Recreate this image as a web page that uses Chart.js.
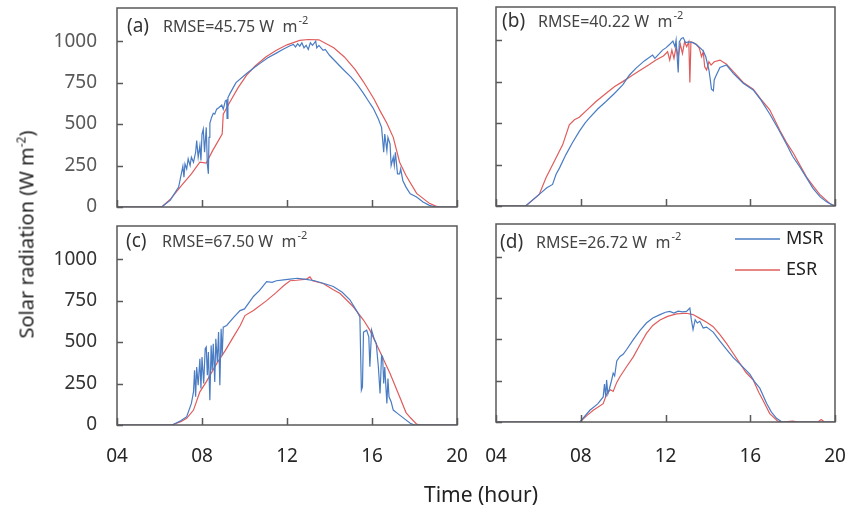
<!DOCTYPE html>
<html>
<head>
<meta charset="utf-8">
<script src="https://cdn.jsdelivr.net/npm/chart.js@4.4.0/dist/chart.umd.min.js"></script>
<style>
  body { margin: 0; background: #fff; }
  #wrap { position: relative; width: 848px; height: 509px; overflow: hidden; font-family: "Noto Sans", sans-serif; }
  canvas { position: absolute; }
  .title { position: absolute; color: #222; font-size: 20px; white-space: nowrap; text-align: center; }
  .title sup { font-size: 12px; vertical-align: 8px; line-height: 0; }
</style>
</head>
<body>
<div id="wrap">
  <canvas id="pa" width="470" height="215" style="left:0;top:0"></canvas>
  <canvas id="pb" width="378" height="215" style="left:470px;top:0"></canvas>
  <canvas id="pc" width="470" height="294" style="left:0;top:215px"></canvas>
  <canvas id="pd" width="378" height="294" style="left:470px;top:215px"></canvas>
  <div class="title" style="left:-124px;top:221px;width:300px;transform:rotate(-90deg)">Solar radiation (W m<sup>-2</sup>)</div>
  <div class="title" style="left:381px;top:480px;width:200px;font-size:21px">Time (hour)</div>
</div>
<script>
const xTicks = [4, 8, 12, 16, 20];
const xTickLabels = ['04', '08', '12', '16', '20'];
const yTicks = [0, 250, 500, 750, 1000];

// (a)
const aMsrHour = [4, 6.1, 6.5, 6.9, 7.1, 7.15, 7.2, 7.28, 7.35, 7.44, 7.5, 7.6, 7.7, 7.75, 7.82, 7.9, 7.95, 8.0, 8.06, 8.12, 8.2, 8.25, 8.3, 8.33, 8.37, 8.45, 8.53, 8.6, 8.69, 8.8, 8.93, 9.0, 9.1, 9.16, 9.18, 9.22, 9.32, 9.6, 10.1, 10.4, 10.73, 11.1, 11.5, 11.8, 12.14, 12.3, 12.4, 12.5, 12.6, 12.7, 12.8, 12.9, 13.0, 13.1, 13.2, 13.35, 13.4, 13.5, 13.7, 13.8, 14.0, 14.34, 14.6, 15.0, 15.3, 15.6, 15.8, 16.06, 16.3, 16.45, 16.55, 16.6, 16.7, 16.75, 16.85, 16.9, 17.0, 17.05, 17.1, 17.2, 17.3, 17.35, 17.45, 17.6, 17.8, 18.1, 18.4, 18.7, 19.0, 20];
const aMsrVal = [0, 0, 40, 120, 245, 180, 260, 230, 290, 250, 300, 270, 330, 400, 300, 370, 280, 440, 470, 330, 480, 260, 200, 420, 505, 540, 565, 560, 590, 600, 615, 590, 640, 645, 535, 660, 685, 750, 805, 835, 866, 900, 928, 950, 972, 980, 965, 985, 970, 990, 960, 975, 950, 990, 975, 1000, 960, 975, 945, 950, 915, 870, 835, 785, 740, 685, 645, 595, 530, 480, 330, 440, 340, 420, 380, 250, 300, 250, 330, 200, 200, 230, 160, 120, 80, 60, 30, 10, 0, 0];
const aEsrHour = [4, 6.1, 6.5, 7.0, 7.5, 7.9, 8.2, 8.5, 8.95, 9.0, 9.3, 9.7, 10.1, 10.5, 11.0, 11.5, 12.0, 12.6, 13.0, 13.5, 14.2, 14.7, 15.2, 15.6, 16.1, 16.4, 16.7, 17.0, 17.3, 17.6, 18.1, 18.7, 19.0, 19.2, 20];
const aEsrVal = [0, 0, 45, 125, 200, 270, 265, 340, 440, 560, 630, 720, 795, 850, 905, 945, 978, 1005, 1010, 1008, 960, 905, 830, 755, 650, 575, 505, 420, 270, 190, 82, 22, 5, 0, 0];

// (b)
const bMsrHour = [4, 5.4, 6.04, 6.4, 6.67, 6.83, 7.0, 7.3, 7.6, 7.93, 8.2, 8.4, 8.8, 9.19, 9.6, 9.98, 10.3, 10.6, 11.0, 11.39, 11.5, 11.86, 12.03, 12.2, 12.35, 12.45, 12.5, 12.6, 12.65, 12.75, 12.84, 12.95, 13.1, 13.3, 13.5, 13.78, 13.9, 14.05, 14.1, 14.17, 14.26, 14.3, 14.4, 14.57, 14.88, 15.2, 15.67, 16.14, 16.5, 16.92, 17.3, 17.7, 18.0, 18.34, 18.66, 18.97, 19.3, 19.6, 19.9, 20];
const bMsrVal = [0, 0, 70, 110, 130, 190, 230, 310, 380, 450, 500, 530, 585, 630, 680, 730, 790, 830, 875, 910, 890, 940, 955, 975, 995, 960, 1000, 805, 990, 1010, 1015, 985, 990, 985, 970, 935, 900, 820, 775, 705, 695, 760, 790, 835, 850, 800, 740, 700, 640, 555, 470, 375, 300, 235, 170, 105, 55, 25, 5, 0];
const bEsrHour = [4, 5.4, 6.04, 6.36, 6.83, 7.15, 7.46, 7.7, 7.93, 8.3, 8.72, 9.2, 9.6, 9.98, 10.4, 10.77, 11.2, 11.55, 11.9, 12.1, 12.2, 12.3, 12.4, 12.5, 12.6, 12.7, 12.8, 12.9, 13.0, 13.1, 13.15, 13.2, 13.3, 13.45, 13.6, 13.7, 13.78, 13.85, 13.94, 14.05, 14.15, 14.3, 14.57, 14.88, 15.2, 15.67, 16.14, 16.5, 16.92, 17.4, 17.7, 18.03, 18.35, 18.66, 19.0, 19.28, 19.75, 20];
const bEsrVal = [0, 0, 70, 170, 290, 370, 490, 520, 535, 580, 630, 680, 720, 750, 785, 815, 850, 880, 905, 930, 880, 940, 890, 960, 900, 975, 920, 990, 960, 990, 745, 990, 985, 975, 950, 900, 930, 840, 820, 870, 850, 870, 880, 855, 810, 745, 705, 645, 580, 455, 385, 320, 245, 175, 115, 70, 15, 0];

// (c)
const cMsrHour = [4, 6.6, 7.0, 7.28, 7.5, 7.6, 7.65, 7.7, 7.75, 7.82, 7.9, 7.95, 8.0, 8.08, 8.15, 8.2, 8.25, 8.3, 8.37, 8.43, 8.48, 8.53, 8.6, 8.65, 8.72, 8.78, 8.84, 8.9, 8.95, 9.0, 9.16, 9.5, 9.79, 10.0, 10.42, 10.7, 11.04, 11.3, 11.5, 11.84, 12.14, 12.5, 12.9, 13.3, 13.7, 14.18, 14.6, 14.96, 15.27, 15.43, 15.47, 15.5, 15.55, 15.6, 15.75, 15.85, 15.9, 15.98, 16.1, 16.2, 16.3, 16.38, 16.45, 16.5, 16.55, 16.6, 16.7, 16.75, 16.8, 16.9, 17.0, 17.2, 17.5, 17.8, 18.0, 20];
const cMsrVal = [0, 0, 25, 50, 130, 200, 330, 170, 350, 240, 400, 220, 410, 250, 460, 470, 300, 440, 150, 480, 330, 490, 260, 520, 380, 560, 240, 580, 420, 590, 600, 650, 690, 700, 775, 810, 865, 860, 870, 875, 880, 885, 878, 870, 855, 835, 800, 755, 690, 652, 400, 210, 230, 560, 572, 530, 351, 572, 520, 492, 350, 190, 420, 411, 250, 350, 130, 280, 170, 140, 90, 70, 40, 10, 0, 0];
const cEsrHour = [4, 6.57, 7.0, 7.28, 7.6, 7.9, 8.2, 8.69, 9.1, 9.47, 9.8, 10.02, 10.42, 11.04, 11.5, 11.84, 12.14, 12.45, 12.92, 13.08, 13.2, 13.7, 14.18, 14.5, 15.12, 15.6, 15.9, 16.38, 16.85, 17.3, 17.6, 17.8, 18.1, 18.3, 20];
const cEsrVal = [0, 0, 20, 40, 90, 200, 260, 370, 450, 530, 600, 660, 690, 750, 800, 840, 870, 873, 880, 893, 870, 853, 815, 793, 713, 633, 572, 440, 310, 170, 75, 45, 5, 0, 0];

// (d)
const dMsrHour = [4, 7.96, 8.43, 8.8, 9.06, 9.12, 9.18, 9.22, 9.28, 9.35, 9.45, 9.53, 9.6, 9.7, 9.85, 10.0, 10.16, 10.48, 10.8, 11.1, 11.4, 11.74, 12.0, 12.2, 12.4, 12.6, 12.8, 12.99, 13.15, 13.22, 13.3, 13.4, 13.5, 13.62, 13.78, 13.94, 14.25, 14.57, 14.88, 15.2, 15.6, 15.98, 16.2, 16.45, 16.77, 17.0, 17.24, 17.5, 20];
const dMsrVal = [0, 0, 71, 110, 152, 230, 150, 255, 170, 200, 250, 296, 280, 370, 397, 410, 438, 499, 555, 600, 630, 651, 665, 670, 660, 672, 668, 670, 691, 620, 560, 620, 600, 610, 570, 575, 545, 490, 440, 390, 340, 290, 245, 205, 114, 60, 22, 0, 0];
const dEsrHour = [4, 7.96, 8.3, 8.59, 9.06, 9.22, 9.4, 9.53, 9.7, 9.85, 10.16, 10.48, 10.8, 11.1, 11.4, 11.74, 12.1, 12.52, 12.99, 13.3, 13.62, 13.94, 14.25, 14.57, 14.88, 15.2, 15.51, 15.8, 16.14, 16.4, 16.6, 16.92, 17.3, 17.5, 18.0, 18.3, 19.2, 19.35, 19.5, 20];
const dEsrVal = [0, 0, 40, 71, 111, 170, 195, 185, 240, 274, 335, 395, 470, 537, 585, 618, 640, 655, 659, 651, 628, 605, 578, 530, 477, 415, 355, 300, 254, 180, 132, 51, 5, 0, 5, 0, 0, 15, 0, 0];

const msrColor = '#4a7cc4';
const esrColor = '#e05c5c';
const fontFamily = '"Noto Sans", sans-serif';

function toXY(hours, vals) {
    return hours.map((h, i) => ({ x: h, y: vals[i] }));
}

function noPad(s) {
    s.paddingTop = 0;
    s.paddingBottom = 0;
    s.paddingLeft = 0;
    s.paddingRight = 0;
}

// box round the plot, inward tick marks, panel tag and legend
const panelFrame = {
    id: 'panelFrame',
    afterDatasetsDraw(chart, args, opts) {
        const { ctx, chartArea: a, scales: { x, y } } = chart;
        ctx.save();
        ctx.strokeStyle = '#595959';
        ctx.lineWidth = 1.5;
        ctx.strokeRect(a.left, a.top, a.right - a.left, a.bottom - a.top);
        ctx.beginPath();
        x.ticks.forEach(t => {
            const px = Math.round(x.getPixelForValue(t.value)) + 0.5;
            ctx.moveTo(px, a.bottom);
            ctx.lineTo(px, a.bottom - 7);
        });
        y.ticks.forEach(t => {
            const py = Math.round(y.getPixelForValue(t.value)) + 0.5;
            ctx.moveTo(a.left, py);
            ctx.lineTo(a.left + 6, py);
        });
        ctx.stroke();

        ctx.textBaseline = 'middle';
        ctx.fillStyle = '#333';
        ctx.font = '19px ' + fontFamily;
        ctx.fillText(opts.tag, a.left + opts.tagX, a.top + opts.tagY);
        ctx.fillStyle = '#444';
        ctx.font = '16px ' + fontFamily;
        const txt = 'RMSE=' + opts.rmse + ' W  m';
        const tx = a.left + opts.tagX + 36;
        ctx.fillText(txt, tx, a.top + opts.tagY);
        const w = ctx.measureText(txt).width;
        ctx.font = '11px ' + fontFamily;
        ctx.fillText('-2', tx + w + 1, a.top + opts.tagY - 6);

        if (opts.legend) {
            ctx.font = '18px ' + fontFamily;
            ctx.fillStyle = '#222';
            chart.data.datasets.forEach((ds, i) => {
                const ly = a.top + 15 + i * 31;
                ctx.strokeStyle = ds.borderColor;
                ctx.lineWidth = 1.3;
                ctx.beginPath();
                ctx.moveTo(a.right - 100, ly);
                ctx.lineTo(a.right - 55, ly);
                ctx.stroke();
                ctx.fillText(ds.label, a.right - 49, ly);
            });
        }
        ctx.restore();
    }
};

function makePanel(id, msrH, msrV, esrH, esrV, cfg) {
    return new Chart(document.getElementById(id), {
        type: 'line',
        data: {
            datasets: [
                { label: 'MSR', data: toXY(msrH, msrV), borderColor: msrColor, borderWidth: 1.2, pointRadius: 0, tension: 0 },
                { label: 'ESR', data: toXY(esrH, esrV), borderColor: esrColor, borderWidth: 1.2, pointRadius: 0, tension: 0 }
            ]
        },
        options: {
            responsive: false,
            animation: false,
            events: [],
            layout: { padding: cfg.padding },
            plugins: {
                legend: { display: false },
                tooltip: { enabled: false },
                panelFrame: cfg.frame
            },
            scales: {
                x: {
                    type: 'linear',
                    min: 4,
                    max: 20,
                    grid: { display: false, drawTicks: false },
                    border: { display: false },
                    afterBuildTicks: s => { s.ticks = xTicks.map(v => ({ value: v })); },
                    afterFit: s => { s.height = cfg.xHeight; noPad(s); },
                    ticks: {
                        display: cfg.showX,
                        padding: cfg.xPad || 20,
                        color: '#262626',
                        maxRotation: 0,
                        autoSkip: false,
                        font: { size: 19, family: fontFamily },
                        callback: v => xTickLabels[xTicks.indexOf(v)]
                    }
                },
                y: {
                    min: 0,
                    max: 1200,
                    grid: { display: false, drawTicks: false },
                    border: { display: false },
                    afterBuildTicks: s => { s.ticks = yTicks.map(v => ({ value: v })); },
                    afterFit: s => { s.width = cfg.yWidth; noPad(s); },
                    ticks: {
                        display: cfg.showY,
                        padding: 20,
                        color: cfg.yColor || '#595959',
                        font: { size: 19, family: fontFamily },
                        callback: v => String(v)
                    }
                }
            }
        },
        plugins: [panelFrame]
    });
}

makePanel('pa', aMsrHour, aMsrVal, aEsrHour, aEsrVal, {
    padding: { left: 0, top: 8, right: 13, bottom: 8 }, yWidth: 117, xHeight: 0, showX: false, showY: true,
    frame: { tag: '(a)', rmse: '45.75', tagX: 10, tagY: 19 }
});
makePanel('pb', bMsrHour, bMsrVal, bEsrHour, bEsrVal, {
    padding: { left: 26, top: 7, right: 13, bottom: 9 }, yWidth: 0, xHeight: 0, showX: false, showY: false,
    frame: { tag: '(b)', rmse: '40.22', tagX: 6, tagY: 15 }
});
makePanel('pc', cMsrHour, cMsrVal, cEsrHour, cEsrVal, {
    padding: { left: 0, top: 11, right: 13, bottom: 34 }, yWidth: 117, xHeight: 50, showX: true, showY: true, xPad: 20, yColor: '#333',
    frame: { tag: '(c)', rmse: '67.50', tagX: 9, tagY: 16 }
});
makePanel('pd', dMsrHour, dMsrVal, dEsrHour, dEsrVal, {
    padding: { left: 26, top: 9, right: 13, bottom: 37 }, yWidth: 0, xHeight: 50, showX: true, showY: false, xPad: 23,
    frame: { tag: '(d)', rmse: '26.72', tagX: 4, tagY: 19, legend: true }
});
</script>
</body>
</html>
